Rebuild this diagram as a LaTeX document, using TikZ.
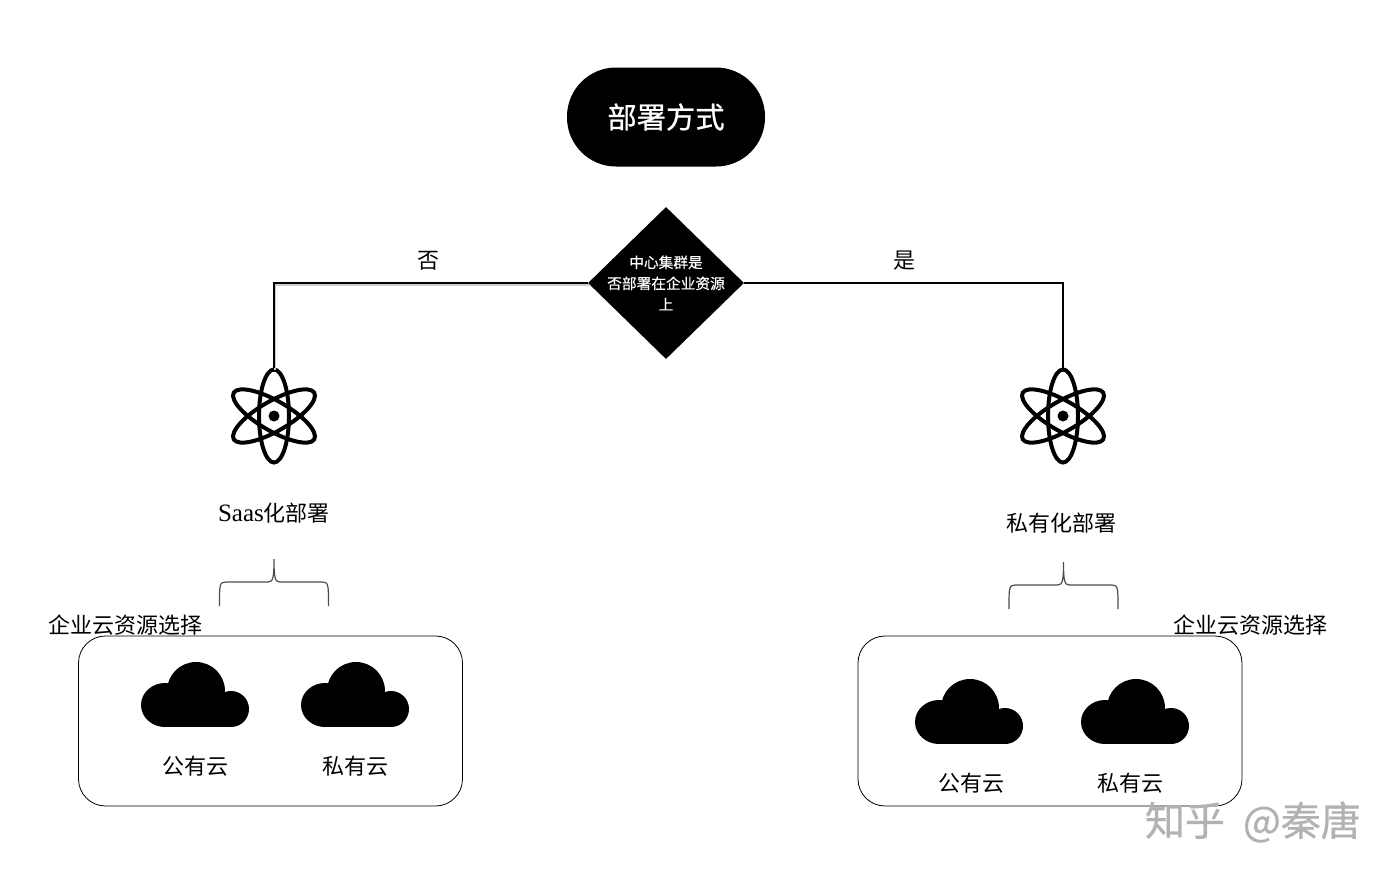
\documentclass[tikz,border=0pt]{standalone}
\usepackage{fontspec}
\setmainfont{Noto Sans CJK SC}
\newfontfamily\latinfont{Liberation Serif}
\newfontfamily\heavyfont[FakeBold=0.7]{Noto Sans CJK SC}
\newfontfamily\midfont[FakeBold=0.35]{Noto Sans CJK SC}
\usepackage{xcolor}
\usepackage{tikz}
\usetikzlibrary{arrows.meta, positioning, shapes.geometric, calc}

\begin{document}
\begin{tikzpicture}[
  x=1pt, y=-1pt,
  startnode/.style={rectangle, rounded corners=49pt, fill=black, text=white, minimum width=198pt, minimum height=99pt, font=\heavyfont\fontsize{29.3}{29}\selectfont},
  decnode/.style={diamond, fill=black, inner sep=0pt, minimum width=156pt, minimum height=152pt},
  dectext/.style={text=white, align=center, font=\midfont\fontsize{14.7}{21}\selectfont},
  lbl/.style={inner sep=0pt, font=\fontsize{22}{24}\selectfont},
  atomnode/.style={rectangle, inner sep=0pt, minimum width=86pt, minimum height=96pt},
  groupbox/.style={draw=black, rounded corners=27pt, line width=0.8pt, minimum width=384pt, minimum height=170pt},
  conn/.style={black, line width=1.8pt},
  brace/.style={draw=black!70, line width=1.2pt},
  cloudicon/.pic={
    \fill (-30,-22) ellipse (24pt and 22pt);
    \fill (1,-36) circle (29pt);
    \fill (36,-18) circle (18pt);
    \fill (-30,-30) rectangle (36,0);
  },
  atomicon/.pic={
    \foreach \a in {0,60,120}{
      \draw[line width=4pt, rotate=\a] (0,0) ellipse (15pt and 46.5pt);
    }
    \fill (0,0) circle (5.5pt);
  },
  bracket/.pic={
    \draw[brace] (-54.5,24) .. controls (-54.5,2) and (-54.5,0) .. (-48,0) -- (-6,0)
      .. controls (-1,0) and (0,-4) .. (0,-23)
      .. controls (0,-4) and (1,0) .. (6,0) -- (48,0)
      .. controls (54.5,0) and (54.5,2) .. (54.5,24);
  }
]
  \useasboundingbox (0,0) rectangle (1396,878);

  % Top of the tree
  \node[startnode] (start) at (666,117) {部署方式};
  \node[decnode] (dec) at (666,283) {};
  \node[dectext] (decT) at (dec.center) {中心集群是\\否部署在企业资源\\上};

  % Two deployment branches
  \node[atomnode] (atomL) at (274,416) {};
  \node[atomnode] (atomR) at (1063,416) {};
  \pic at (atomL.center) {atomicon};
  \pic at (atomR.center) {atomicon};
  \draw[black!20, line width=2pt, transform canvas={xshift=1.2pt, yshift=-1.8pt}] (dec.west) -| (atomL.north);
  \draw[conn] (dec.west) -| (atomL.north);
  \draw[conn] (dec.east) -| (atomR.north);
  \node[lbl] (no) at (428,261) {否};
  \node[lbl] (yes) at (904,261) {是};
  \node[lbl] (saas) at (274,513) {{\latinfont\fontsize{25}{24}\selectfont Saas}化部署};
  \node[lbl] (priv) at (1061,523) {私有化部署};

  % Brackets above the resource groups
  \pic at (274,582) {bracket};
  \pic at (1063.5,585) {bracket};

  \node[groupbox] (boxL) at (270.5,721) {};
  \node[groupbox] (boxR) at (1050,721) {};
  \node[lbl] (resL) at (125,625) {企业云资源选择};
  \node[lbl] (resR) at (1250,625) {企业云资源选择};

  % Clouds with their captions
  \foreach \i/\x/\y in {1/195/727, 2/355/727, 3/969/744, 4/1135/744}{
    \pic at (\x,\y) {cloudicon};
  }
  \foreach \i/\x/\y/\t in {1/195/766/公有云, 2/355/766/私有云, 3/971/783/公有云, 4/1130/783/私有云}{
    \node[lbl] (C\i) at (\x,\y) {\t};
  }

  \node[text=black!30, inner sep=0pt, anchor=east, font=\heavyfont\fontsize{40}{40}\selectfont] (mark) at (1361,822) {知乎\hspace{18pt}@秦唐};
\end{tikzpicture}
\end{document}
